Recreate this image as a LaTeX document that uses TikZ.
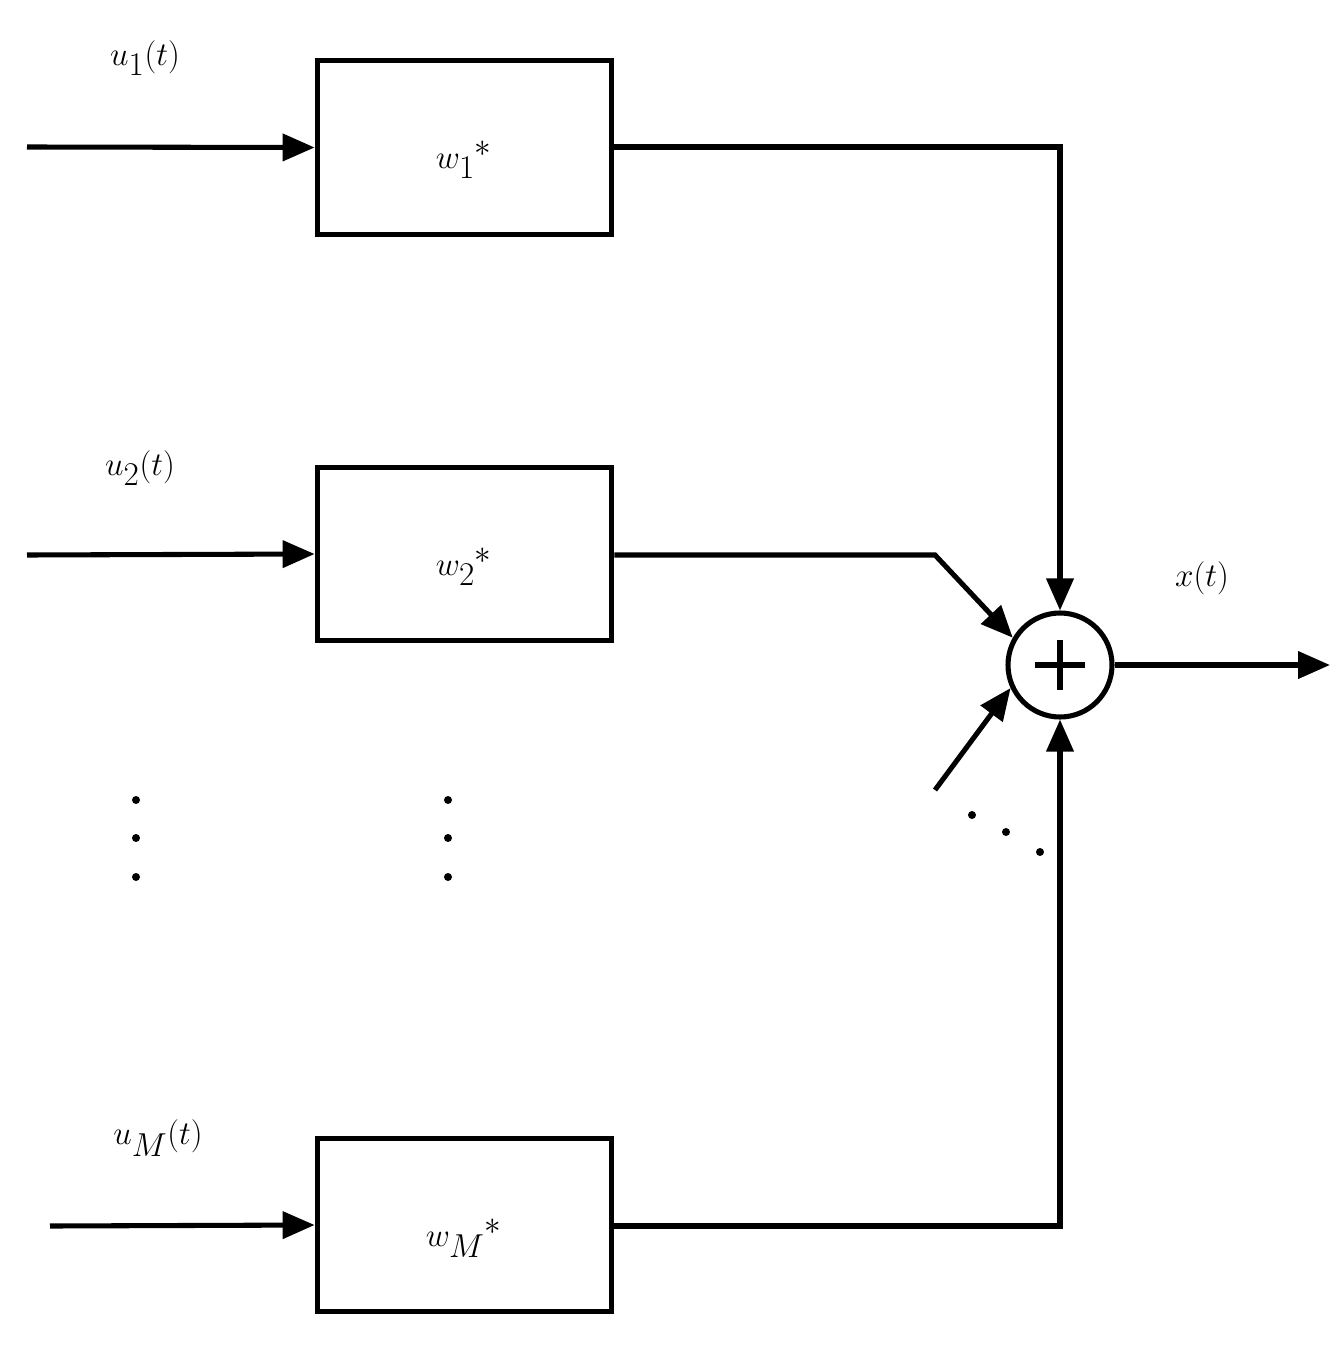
\documentclass[tikz,border=0pt]{standalone}
\usepackage{fontspec}
\setmainfont{Liberation Serif}
\usetikzlibrary{arrows.meta}
\begin{document}
\begin{tikzpicture}[x=0.75pt,y=-0.75pt,
  ln/.style={line width=3.8pt},
  arr/.style={ln,-{Triangle[length=24pt,width=20pt]}},
  box/.style={draw,line width=3.8pt,minimum width=221pt,minimum height=130pt,inner sep=0pt},
  lab/.style={font=\fontsize{44}{50}\selectfont},
  wl/.style={font=\fontsize{56}{60}\selectfont},
  dot/.style={circle,fill,inner sep=0pt,minimum size=6pt}]
\useasboundingbox (0,0) rectangle (1339,1348);
\node[box] (b1) at (464.5,147.5) {};
\node[box] (b2) at (464.5,554) {};
\node[box] (bM) at (464.5,1225) {};
\node[wl] at (464,160) {$w_1{}^{*}$};
\node[wl] at (464,567) {$w_2{}^{*}$};
\node[wl] at (464,1238) {$w_M{}^{*}$};
\node[draw,circle,line width=3.8pt,minimum size=78pt,inner sep=0pt] (s) at (1060,665) {};
\draw[line width=3.8pt] (1035,665) -- (1085,665) (1060,640) -- (1060,690);
\coordinate (i1) at (27,147); \coordinate (i2) at (27,555); \coordinate (iM) at (50,1226);
\draw[arr] (i1) -- (b1.west);
\draw[arr] (i2) -- (b2.west);
\draw[arr] (iM) -- (bM.west);
\coordinate (c1) at (1060,147); \coordinate (c2) at (935,555); \coordinate (cM) at (1060,1226);
\coordinate (c3) at (935,790); \coordinate (o) at (1330,665);
\draw[arr] (b1.east |- c1) -- (c1) -- (s.north);
\draw[arr] (b2.east |- c2) -- (c2) -- (s.150);
\draw[arr] (c3) -- (s.205);
\draw[arr] (bM.east |- cM) -- (cM) -- (s.south);
\draw[arr] (s.east) -- (o);
\node[lab] at (145,58) {$u_1(t)$};
\node[lab] at (140,468) {$u_2(t)$};
\node[lab] at (158,1138) {$u_M(t)$};
\node[lab] at (1202,578) {$x(t)$};
\foreach \x in {136,448} \foreach \y in {800,838,877} \node[dot] at (\x,\y) {};
\node[dot] at (972,815) {}; \node[dot] at (1006,832) {}; \node[dot] at (1040,852) {};
\end{tikzpicture}
\end{document}
